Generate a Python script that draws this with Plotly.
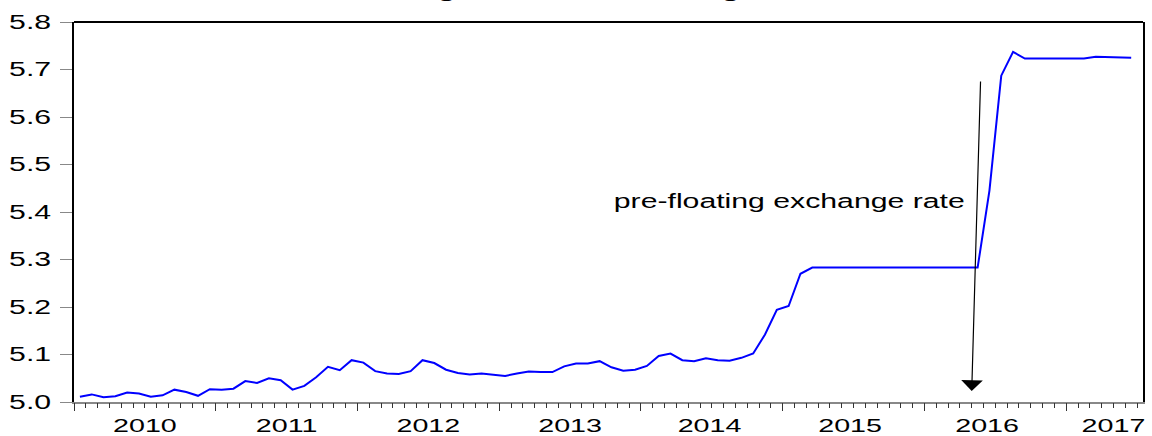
import plotly.graph_objects as go

# Monthly log official exchange rate, 2010M01 .. 2017M06
months_index = list(range(90))
log_rate = [
    5.011, 5.016, 5.010, 5.012, 5.020, 5.018, 5.011, 5.014, 5.026, 5.021, 5.013, 5.027,
    5.026, 5.028, 5.044, 5.040, 5.050, 5.046, 5.026, 5.034, 5.052, 5.074, 5.067, 5.088,
    5.083, 5.065, 5.060, 5.059, 5.065, 5.088, 5.082, 5.068, 5.061, 5.058, 5.060, 5.058,
    5.055, 5.060, 5.064, 5.063, 5.063, 5.075, 5.081, 5.081, 5.086, 5.073, 5.066, 5.068,
    5.076, 5.097, 5.102, 5.088, 5.086, 5.092, 5.088, 5.087, 5.093, 5.102, 5.142, 5.194,
    5.202, 5.270, 5.283, 5.283, 5.283, 5.283, 5.283, 5.283, 5.283, 5.283, 5.283, 5.283,
    5.283, 5.283, 5.283, 5.283, 5.283, 5.445, 5.687, 5.737, 5.723, 5.723, 5.723, 5.723,
    5.723, 5.723, 5.727, 5.726, 5.725, 5.7245,
]
year_labels = ["2010", "2011", "2012", "2013", "2014", "2015", "2016", "2017"]
year_label_pos = [6, 18, 30, 42, 53.8, 65.7, 77.3, 88.0]
year_starts = [0, 12, 24, 36, 48, 60, 72, 84]
y_ticks = [5.0, 5.1, 5.2, 5.3, 5.4, 5.5, 5.6, 5.7, 5.8]
y_ticktext = ["5.0", "5.1", "5.2", "5.3", "5.4", "5.5", "5.6", "5.7", "5.8"]

x_vals = [m + 0.5 for m in months_index]
X_RANGE = [0, 90.5]

FONT = "Liberation Sans, Arial, sans-serif"

fig = go.Figure()
fig.add_trace(go.Scatter(x=x_vals, y=log_rate, mode="lines",
                         line=dict(color="#0000FF", width=2), showlegend=False,
                         hoverinfo="skip"))
# invisible trace on xaxis2 so that the tick axis is drawn
fig.add_trace(go.Scatter(x=[x_vals[0]], y=[log_rate[0]], xaxis="x2", mode="lines",
                         line=dict(width=0), showlegend=False, hoverinfo="skip"))

fig.update_layout(
    width=1152, height=436,
    margin=dict(l=74, r=9, t=22, b=34, autoexpand=False),
    paper_bgcolor="white", plot_bgcolor="white",
    font=dict(family=FONT, size=18.5, color="black"),
    xaxis=dict(range=X_RANGE, tickmode="array", tickvals=year_label_pos,
               ticktext=year_labels, ticks="", showgrid=False, zeroline=False,
               showline=True, linecolor="#888888", linewidth=1.5, automargin=False,
               tickfont=dict(family=FONT, size=18.5, color="black"),
               ticklabelstandoff=6),
    xaxis2=dict(range=X_RANGE, overlaying="x", side="bottom", anchor="y",
                tickmode="array", tickvals=year_starts, showticklabels=False,
                ticks="outside", ticklen=8, tickwidth=1.3, tickcolor="#333333",
                minor=dict(tickmode="array", tickvals=months_index + [90],
                           ticks="outside", ticklen=5, tickwidth=1.2,
                           tickcolor="#333333", showgrid=False),
                showgrid=False, zeroline=False, showline=False, automargin=False),
    yaxis=dict(range=[5.0, 5.8], tickmode="array", tickvals=y_ticks,
               ticktext=y_ticktext, ticks="outside", ticklen=12, tickwidth=1.3,
               tickcolor="#888888", showgrid=False, zeroline=False,
               showline=True, linecolor="black", linewidth=2, mirror=True,
               automargin=False,
               tickfont=dict(family=FONT, size=19.5, color="black"),
               ticklabelstandoff=5),
    shapes=[dict(type="line", xref="paper", yref="paper", x0=0, x1=1, y0=1, y1=1,
                 line=dict(color="black", width=2))],
)

fig.add_annotation(xref="x", yref="y", x=60.55, y=5.423, text="pre-floating exchange rate",
                   showarrow=False, font=dict(family=FONT, size=19.5, color="black"),
                   xanchor="center", yanchor="middle")
fig.add_annotation(xref="x", yref="y", x=76.0, y=5.023, ax=76.75, ay=5.678,
                   axref="x", ayref="y", text="", showarrow=True,
                   arrowhead=1, arrowsize=3, arrowwidth=1.2, arrowcolor="black")
fig.add_annotation(xref="paper", yref="paper", x=0.5, y=1, yanchor="bottom",
                   xanchor="center", yshift=19, showarrow=False,
                   text="<b>Log of Naira-Dollar Exchange Rate</b>",
                   font=dict(family="Liberation Serif, serif", size=17, color="black"))

post_js = """
(function(){
  var gd = document.getElementById('{plot_id}');
  function stretch(){
    gd.querySelectorAll('text').forEach(function(t){
      if(!t.textContent) return;
      var cur = t.getAttribute('transform') || '';
      if (t.__st && t.__st === cur) return;
      var x = parseFloat(t.getAttribute('x')) || 0;
      var nt = cur + ' translate(' + x + ',0) scale(1.55,1) translate(' + (-x) + ',0)';
      t.setAttribute('transform', nt);
      t.__st = nt;
    });
  }
  stretch();
  if (gd.on) gd.on('plotly_afterplot', stretch);
  setTimeout(stretch, 50);
})();
"""

fig.write_html("out.html", post_script=post_js)
